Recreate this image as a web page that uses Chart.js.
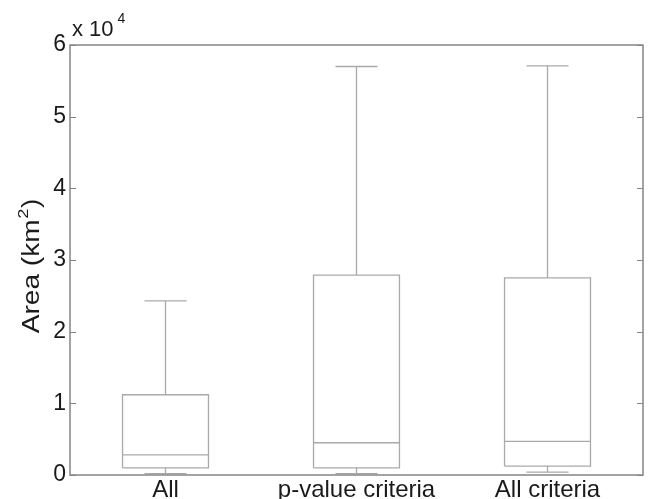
<!DOCTYPE html>
<html>
<head>
<meta charset="utf-8">
<script src="https://cdn.jsdelivr.net/npm/chart.js@4"></script>
<style>
html,body{margin:0;padding:0;background:#fff;}
#wrap{width:651px;height:499px;}
</style>
</head>
<body>
<div id="wrap"><canvas id="c" width="651" height="499"></canvas></div>
<script>
// ---- data ----
const categories = ['All', 'p-value criteria', 'All criteria'];
const whiskerLow  = [200, 200, 400];
const q1          = [1000, 1000, 1250];
const median      = [2800, 4500, 4700];
const q3          = [11200, 27900, 27500];
const whiskerHigh = [24300, 57000, 57100];
const yTickValues = [0, 10000, 20000, 30000, 40000, 50000, 60000];
const yTickLabels = ['0', '1', '2', '3', '4', '5', '6'];
const yExponentText = 'x 10';
const yExponent = '4';

// ---- style ----
const BOX_HALF = 0.225;
const CAP_HALF = 0.11;
const LINE_COLOR = '#a9a9a9';
const AXIS_COLOR = '#858585';
const TEXT_COLOR = '#1a1a1a';
const FONT = '"Liberation Sans", Arial, sans-serif';

function seg(points) {
  return {
    data: points.map(p => ({x: p[0], y: p[1]})),
    showLine: true,
    borderColor: LINE_COLOR,
    borderWidth: 1.3,
    pointRadius: 0,
    fill: false,
    tension: 0
  };
}

const datasets = [];
categories.forEach((c, i) => {
  const x = i + 1;
  datasets.push(seg([[x - BOX_HALF, q1[i]], [x + BOX_HALF, q1[i]], [x + BOX_HALF, q3[i]], [x - BOX_HALF, q3[i]], [x - BOX_HALF, q1[i]]]));
  datasets.push(seg([[x - BOX_HALF, median[i]], [x + BOX_HALF, median[i]]]));
  datasets.push(seg([[x, q3[i]], [x, whiskerHigh[i]]]));
  datasets.push(seg([[x - CAP_HALF, whiskerHigh[i]], [x + CAP_HALF, whiskerHigh[i]]]));
  datasets.push(seg([[x, q1[i]], [x, whiskerLow[i]]]));
  datasets.push(seg([[x - CAP_HALF, whiskerLow[i]], [x + CAP_HALF, whiskerLow[i]]]));
});

const frame = {
  id: 'frame',
  afterDraw(chart) {
    const {ctx, chartArea: a, scales} = chart;
    ctx.save();
    ctx.strokeStyle = AXIS_COLOR;
    ctx.lineWidth = 1.5;
    ctx.strokeRect(a.left, a.top, a.right - a.left, a.bottom - a.top);
    ctx.lineWidth = 1;
    yTickValues.forEach(v => {
      const py = Math.round(scales.y.getPixelForValue(v)) + 0.5;
      ctx.beginPath();
      ctx.moveTo(a.left, py); ctx.lineTo(a.left + 6, py);
      ctx.moveTo(a.right - 6, py); ctx.lineTo(a.right, py);
      ctx.stroke();
    });
    // exponent label
    ctx.fillStyle = TEXT_COLOR;
    ctx.textBaseline = 'alphabetic';
    ctx.textAlign = 'left';
    ctx.font = '22px ' + FONT;
    ctx.fillText(yExponentText, a.left + 2, 36);
    const w = ctx.measureText(yExponentText).width;
    ctx.font = '14px ' + FONT;
    ctx.fillText(yExponent, a.left + 2 + w + 4, 23);
    // y title
    ctx.translate(33, (a.top + a.bottom) / 2 + 6);
    ctx.rotate(-Math.PI / 2);
    ctx.scale(1.22, 1);
    ctx.font = '23px ' + FONT;
    const t1 = 'Area (km', t3 = ')';
    const w1 = ctx.measureText(t1).width;
    const w3 = ctx.measureText(t3).width;
    ctx.font = '15px ' + FONT;
    const w2 = ctx.measureText('2').width;
    const total = w1 + w2 + w3 + 1;
    let sx = -total / 2;
    ctx.textBaseline = 'middle';
    ctx.font = '23px ' + FONT;
    ctx.fillText(t1, sx, 0);
    ctx.font = '15px ' + FONT;
    ctx.fillText('2', sx + w1 + 0.5, -9);
    ctx.font = '23px ' + FONT;
    ctx.fillText(t3, sx + w1 + w2 + 1, 0);
    ctx.restore();
  }
};

new Chart(document.getElementById('c'), {
  type: 'scatter',
  data: { datasets },
  options: {
    responsive: false,
    animation: false,
    events: [],
    layout: { padding: { left: 0, top: 45, right: 8, bottom: 0 } },
    plugins: { legend: { display: false }, tooltip: { enabled: false }, title: { display: false } },
    scales: {
      x: {
        type: 'linear',
        min: 0.5, max: 3.5,
        afterBuildTicks: s => { s.ticks = categories.map((c, i) => ({ value: i + 1 })); },
        afterFit: s => { s.height = 24; },
        grid: { display: false, drawTicks: false },
        border: { display: false },
        ticks: {
          padding: 1,
          color: TEXT_COLOR,
          font: { family: FONT, size: 24 },
          maxRotation: 0, autoSkip: false,
          callback: v => categories[Math.round(v) - 1]
        }
      },
      y: {
        type: 'linear',
        min: 0, max: 60000,
        afterBuildTicks: s => { s.ticks = yTickValues.map(v => ({ value: v })); },
        afterFit: s => { s.width = 70; },
        grid: { display: false, drawTicks: false },
        border: { display: false },
        ticks: {
          padding: 4,
          color: TEXT_COLOR,
          font: { family: FONT, size: 23 },
          callback: v => yTickLabels[yTickValues.indexOf(v)]
        }
      }
    }
  },
  plugins: [frame]
});
</script>
</body>
</html>
